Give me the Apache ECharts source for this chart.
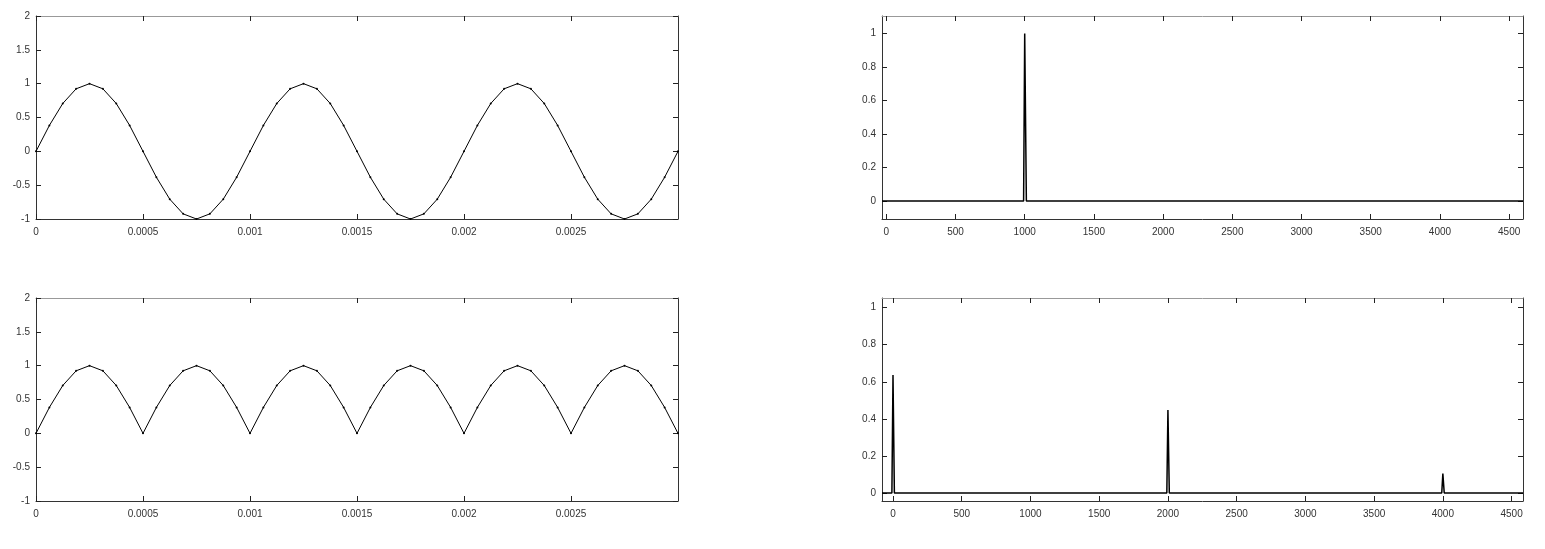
<!DOCTYPE html>
<html>
<head>
<meta charset="utf-8">
<script src="https://cdn.jsdelivr.net/npm/echarts@6/dist/echarts.min.js"></script>
<style>
    html, body { margin: 0; padding: 0; background: #fff; }
    #chart { width: 1545px; height: 549px; }
</style>
</head>
<body>
<div id="chart"></div>
<script>
// time samples (s) of the 1 kHz signal
var timeValues = [
    0, 0.0000625, 0.000125, 0.0001875, 0.00025, 0.0003125, 0.000375, 0.0004375,
    0.0005, 0.0005625, 0.000625, 0.0006875, 0.00075, 0.0008125, 0.000875, 0.0009375,
    0.001, 0.0010625, 0.001125, 0.0011875, 0.00125, 0.0013125, 0.001375, 0.0014375,
    0.0015, 0.0015625, 0.001625, 0.0016875, 0.00175, 0.0018125, 0.001875, 0.0019375,
    0.002, 0.0020625, 0.002125, 0.0021875, 0.00225, 0.0023125, 0.002375, 0.0024375,
    0.0025, 0.0025625, 0.002625, 0.0026875, 0.00275, 0.0028125, 0.002875, 0.0029375,
    0.003,
];

var sineValues = [
    0, 0.383, 0.707, 0.924, 1, 0.924, 0.707, 0.383,
    0, -0.383, -0.707, -0.924, -1, -0.924, -0.707, -0.383,
    0, 0.383, 0.707, 0.924, 1, 0.924, 0.707, 0.383,
    0, -0.383, -0.707, -0.924, -1, -0.924, -0.707, -0.383,
    0, 0.383, 0.707, 0.924, 1, 0.924, 0.707, 0.383,
    0, -0.383, -0.707, -0.924, -1, -0.924, -0.707, -0.383,
    0,
];

var rectifiedValues = [
    0, 0.383, 0.707, 0.924, 1, 0.924, 0.707, 0.383,
    0, 0.383, 0.707, 0.924, 1, 0.924, 0.707, 0.383,
    0, 0.383, 0.707, 0.924, 1, 0.924, 0.707, 0.383,
    0, 0.383, 0.707, 0.924, 1, 0.924, 0.707, 0.383,
    0, 0.383, 0.707, 0.924, 1, 0.924, 0.707, 0.383,
    0, 0.383, 0.707, 0.924, 1, 0.924, 0.707, 0.383,
    0,
];

// spectra (Hz, magnitude)
var sineSpecFreq = [-31, 992, 1000, 1012, 4600];
var sineSpecMag = [0, 0, 1, 0, 0];

var rectSpecFreq = [-80, -8, 0, 10, 1992, 2000, 2010, 3992, 4000, 4010, 4583];
var rectSpecMag = [0, 0, 0.636, 0, 0, 0.448, 0, 0, 0.105, 0, 0];

// tick labels
var timeTicks = [0, 0.0005, 0.001, 0.0015, 0.002, 0.0025];
var signalTicks = [-1, -0.5, 0, 0.5, 1, 1.5, 2];
var freqTicks = [0, 500, 1000, 1500, 2000, 2500, 3000, 3500, 4000, 4500];
var magTicks = [0, 0.2, 0.4, 0.6, 0.8, 1];

var grids = [
    { left: 36, top: 16, width: 642, height: 203 },
    { left: 36, top: 298, width: 642, height: 203 },
    { left: 882, top: 16, width: 641, height: 203 },
    { left: 882, top: 298, width: 641, height: 203 },
];

var labelStyle = {
    color: "#333",
    fontSize: 10,
    fontFamily: "Liberation Sans",
};

function zip(xs, ys) {
    return xs.map(function (x, i) {
        return [x, ys[i]];
    });
}

function makeAxis(gridIndex, position, min, max, ticks, showLabels) {
    var isTop = position === "top";
    return {
        type: "value",
        gridIndex: gridIndex,
        position: position,
        min: min,
        max: max,
        axisLine: {
            show: true,
            onZero: false,
            lineStyle: { color: isTop ? "#999" : "#333", width: 1 },
        },
        axisTick: {
            show: true,
            inside: true,
            length: 5,
            customValues: ticks,
            lineStyle: { color: "#222", width: 1 },
        },
        axisLabel: {
            show: showLabels,
            customValues: ticks,
            margin: position === "left" ? 6 : 8,
            formatter: function (v) {
                return String(v);
            },
            ...labelStyle,
        },
        splitLine: { show: false },
    };
}

var xAxes = [];
var yAxes = [];
var ranges = [
    { x: [0, 0.003], y: [-1, 2], xt: timeTicks, yt: signalTicks },
    { x: [0, 0.003], y: [-1, 2], xt: timeTicks, yt: signalTicks },
    { x: [-31, 4600], y: [-0.107, 1.105], xt: freqTicks, yt: magTicks },
    { x: [-80, 4583], y: [-0.043, 1.052], xt: freqTicks, yt: magTicks },
];

ranges.forEach(function (r, g) {
    xAxes.push(makeAxis(g, "bottom", r.x[0], r.x[1], r.xt, true));
    xAxes.push(makeAxis(g, "top", r.x[0], r.x[1], r.xt, false));
    yAxes.push(makeAxis(g, "left", r.y[0], r.y[1], r.yt, true));
    yAxes.push(makeAxis(g, "right", r.y[0], r.y[1], r.yt, false));
});

function lineSeries(g, data, dots) {
    return {
        type: "line",
        xAxisIndex: g * 2,
        yAxisIndex: g * 2,
        data: data,
        symbol: dots ? "circle" : "none",
        symbolSize: 2,
        showSymbol: dots,
        itemStyle: { color: "#000" },
        lineStyle: { color: "#000", width: dots ? 1 : 1.5 },
        silent: true,
    };
}

var option = {
    animation: false,
    grid: grids,
    xAxis: xAxes,
    yAxis: yAxes,
    series: [
        lineSeries(0, zip(timeValues, sineValues), true),
        lineSeries(1, zip(timeValues, rectifiedValues), true),
        lineSeries(2, zip(sineSpecFreq, sineSpecMag), false),
        lineSeries(3, zip(rectSpecFreq, rectSpecMag), false),
    ],
};

var myChart = echarts.init(document.getElementById("chart"));
option && myChart.setOption(option);
</script>
</body>
</html>
